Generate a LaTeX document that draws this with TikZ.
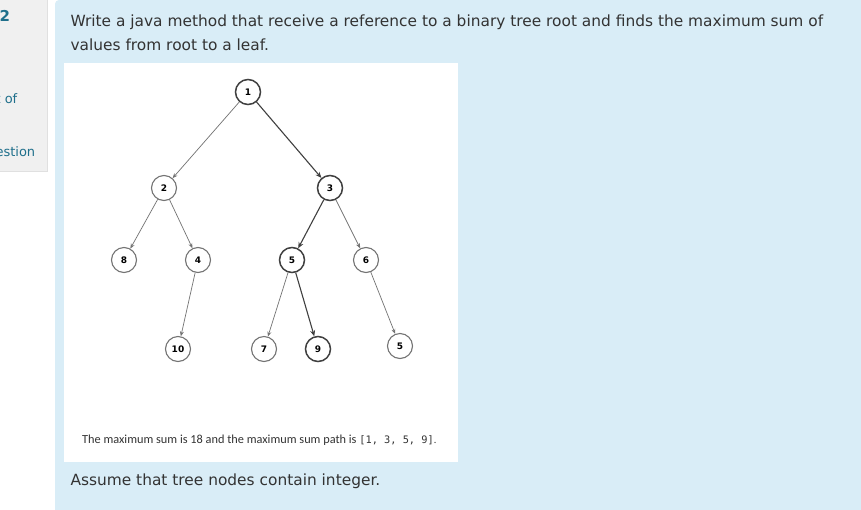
\documentclass[tikz,border=0pt]{standalone}
\usepackage{fontspec}
\setmainfont{DejaVu Sans}
\newfontfamily\capfont{Carlito}
\newfontfamily\capmono{DejaVu Sans Mono}
\usetikzlibrary{arrows.meta}
\definecolor{panel}{HTML}{D9EDF7}
\definecolor{grayp}{HTML}{F0F0F0}
\definecolor{txt}{HTML}{333333}
\definecolor{numc}{HTML}{1F6F8B}
\tikzset{
 tn/.style={circle,draw=black!55,fill=white,line width=1.1pt,minimum size=25pt,inner sep=0pt,font=\bfseries\fontsize{9}{10}\selectfont},
 hn/.style={tn,draw=black!75,line width=1.5pt},
 ed/.style={draw=black!55,line width=0.7pt,-{Stealth[length=5pt,width=4pt]}},
 he/.style={draw=black!75,line width=1.1pt,-{Stealth[length=6pt,width=5pt]}},
}
\begin{document}
\begin{tikzpicture}[x=1pt,y=-1pt]
\useasboundingbox (0,0) rectangle (861,509);
\fill[white] (0,0) rectangle (861,509);
\draw[black!12,fill=grayp] (-5,-5) rectangle (47,171);
\node[anchor=west,text=numc,font=\bfseries\fontsize{15}{18}\selectfont] (qn) at (-4,16) {2};
\node[anchor=west,text=numc,font=\fontsize{13}{15}\selectfont] (t1) at (-8,99) {t of};
\node[anchor=west,text=numc,font=\fontsize{13}{15}\selectfont] (t2) at (-8,152) {estion};
\fill[panel,rounded corners=4pt] (55,0) rectangle (870,520);
\node[anchor=west,text=txt,font=\fontsize{15.4}{18}\selectfont] (l1) at (67,22) {Write a java method that receive a reference to a binary tree root and finds the maximum sum of};
\node[anchor=west,text=txt,font=\fontsize{15.4}{18}\selectfont] (l2) at (67,45) {values from root to a leaf.};
\node[anchor=west,text=txt,font=\fontsize{15.4}{18}\selectfont] (l3) at (67,481) {Assume that tree nodes contain integer.};
\fill[white] (64,63) rectangle (458,462);
\node[hn] (n1) at (248,92) {1};
\node[tn] (n2) at (164,188) {2};
\node[hn] (n3) at (330,188) {3};
\node[tn] (n8) at (124,260) {8};
\node[tn] (n4) at (198,260) {4};
\node[hn] (n5) at (292,260) {5};
\node[tn] (n6) at (366,260) {6};
\node[tn] (n10) at (178,349) {10};
\node[tn] (n7) at (264,349) {7};
\node[hn] (n9) at (318,349) {9};
\node[tn] (n5b) at (400,346) {5};
\draw[ed] (n1) -- (n2);
\draw[he] (n1) -- (n3);
\draw[ed] (n2) -- (n8);
\draw[ed] (n2) -- (n4);
\draw[he] (n3) -- (n5);
\draw[ed] (n3) -- (n6);
\draw[ed] (n4) -- (n10);
\draw[ed] (n5) -- (n7);
\draw[he] (n5) -- (n9);
\draw[ed] (n6) -- (n5b);
\node[anchor=west,text=txt,inner sep=0pt] (cap) at (82,440) {\capfont\fontsize{12.3}{14}\selectfont The maximum sum is 18 and the maximum sum path is \capmono\fontsize{10.3}{12}\selectfont [1, 3, 5, 9]\capfont.};
\end{tikzpicture}
\end{document}
